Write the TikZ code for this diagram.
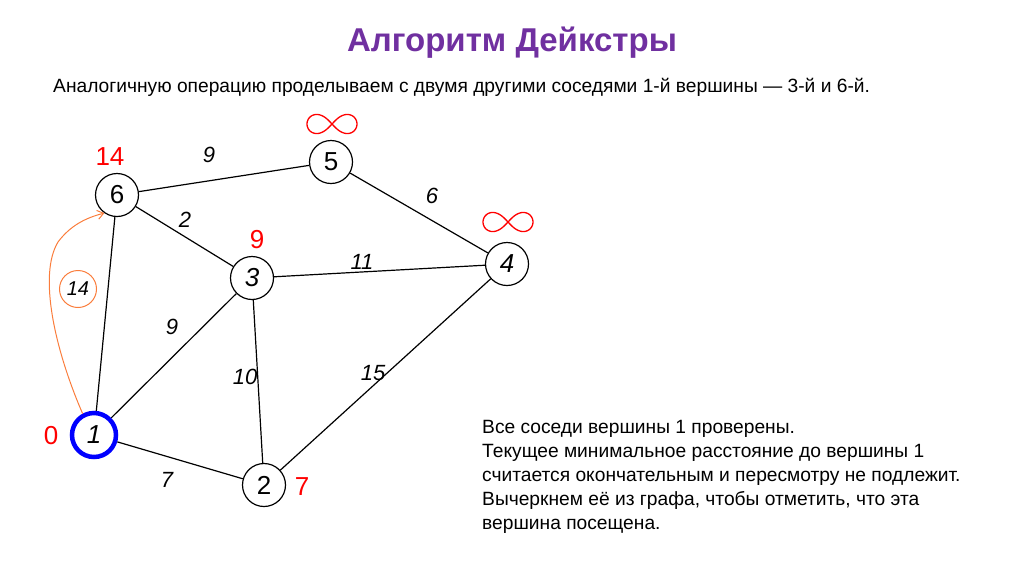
\documentclass[tikz,border=0pt]{standalone}
\usepackage{fontspec}
\setmainfont{Liberation Sans}
\usetikzlibrary{arrows.meta,shapes.geometric}
\definecolor{titlepurple}{RGB}{112,48,160}
\definecolor{arroworange}{RGB}{250,125,60}
\begin{document}
\begin{tikzpicture}[x=1pt,y=-1pt,
  vert/.style={circle,draw,line width=1.2pt,minimum size=43pt,inner sep=0pt,font=\fontsize{26}{26}\selectfont},
  edge/.style={line width=1.2pt},
  wlab/.style={font=\fontsize{22}{22}\selectfont\itshape},
  dlab/.style={text=red,font=\fontsize{26}{26}\selectfont},
  infty/.style={red,line width=1.3pt}]
\useasboundingbox (0,0) rectangle (1024,574);
\node[text=titlepurple,font=\fontsize{33}{33}\selectfont\bfseries] (title) at (512,43) {Алгоритм Дейкстры};
\node[anchor=west,inner sep=0pt,font=\fontsize{19.2}{19.2}\selectfont] (sub) at (53,87) {Аналогичную операцию проделываем с двумя другими соседями 1-й вершины — 3-й и 6-й.};
% vertices
\node[vert] (v6) at (117,195) {6};
\node[vert] (v5) at (331,162) {5};
\node[vert] (v4) at (507,264) {\itshape 4};
\node[vert] (v3) at (252,278) {\itshape 3};
\node[vert,draw=blue,line width=4.5pt,minimum size=44pt] (v1) at (94,435) {\itshape 1};
\node[vert] (v2) at (264,485) {2};
% edges
\draw[edge] (v6) -- (v5);
\draw[edge] (v6) -- (v3);
\draw[edge] (v6) -- (v1);
\draw[edge] (v5) -- (v4);
\draw[edge] (v3) -- (v4);
\draw[edge] (v3) -- (v1);
\draw[edge] (v3) -- (v2);
\draw[edge] (v1) -- (v2);
\draw[edge] (v2) -- (v4);
% weights
\node[wlab] (w65) at (209,155) {9};
\node[wlab] (w54) at (432,196) {6};
\node[wlab] (w63) at (185,220) {2};
\node[wlab] (w34) at (362,262) {11};
\node[wlab] (w31) at (172,327) {9};
\node[wlab] (w32) at (245,377) {10};
\node[wlab] (w24) at (373,373) {15};
\node[wlab] (w12) at (167,480) {7};
% distances
\node[dlab] (d6) at (110,157) {14};
\node[dlab] (d3) at (257,240) {9};
\node[dlab] (d1) at (51,436) {0};
\node[dlab] (d2) at (302,487) {7};
\coordinate (i5) at (332,124);
\coordinate (i4) at (508,222);
\draw[infty,shift={(i5)}] plot[domain=0:360,samples=90,smooth] ({25*cos(\x)/(1+sin(\x)^2)},{-27*sin(\x)*cos(\x)/(1+sin(\x)^2)});
\draw[infty,shift={(i4)}] plot[domain=0:360,samples=90,smooth] ({25*cos(\x)/(1+sin(\x)^2)},{-27*sin(\x)*cos(\x)/(1+sin(\x)^2)});
% orange arrow
\draw[arroworange,line width=1pt,-{Straight Barb[length=6pt,width=9pt]}] (v1.118) .. controls (55,350) and (38,275) .. (58,242) .. controls (70,226) and (85,218) .. (v6.235);
\node[draw=arroworange,line width=1pt,circle,minimum size=37pt,inner sep=0pt,font=\fontsize{20}{20}\selectfont\itshape] (c14) at (78,289) {14};
% text
\node[anchor=north west,align=left,inner sep=0pt,font=\fontsize{19.2}{24}\selectfont] (note) at (482,420) {Все соседи вершины 1 проверены.\\Текущее минимальное расстояние до вершины 1\\считается окончательным и пересмотру не подлежит.\\Вычеркнем её из графа, чтобы отметить, что эта\\вершина посещена.};
\end{tikzpicture}
\end{document}
